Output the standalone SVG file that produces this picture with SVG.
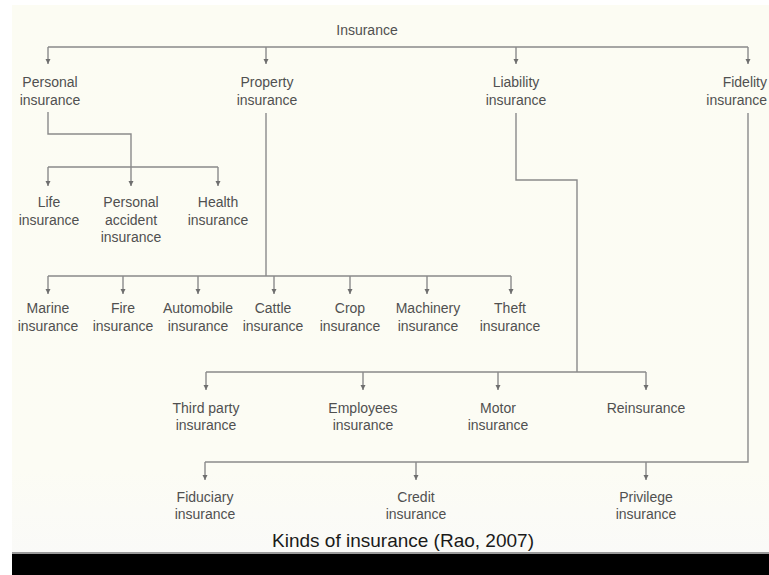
<svg xmlns="http://www.w3.org/2000/svg" width="769" height="575" viewBox="0 0 769 575">
<defs>
<marker id="ah" markerWidth="6" markerHeight="6" refX="5" refY="3" orient="auto" markerUnits="userSpaceOnUse">
<path d="M0,0.5 L5,3 L0,5.5 Z" fill="#6e6e6e"/>
</marker>
<linearGradient id="bg" x1="0" y1="0" x2="0" y2="1">
<stop offset="0" stop-color="#fcfcf3"/>
<stop offset="0.85" stop-color="#fcfcf4"/>
<stop offset="1" stop-color="#fafaf8"/>
</linearGradient>
</defs>
<style>
.n text{font-family:"Liberation Sans",Arial,sans-serif;font-size:14px;fill:#505050;text-anchor:middle}
.c path,.c line{stroke:#8a8a8a;stroke-width:1.4;fill:none}
.a{marker-end:url(#ah)}
.cap{font-family:"Liberation Sans",Arial,sans-serif;font-size:19px;fill:#1a1a1a;text-anchor:middle}
</style>
<rect x="0" y="0" width="769" height="575" fill="#ffffff"/>
<rect x="12" y="5" width="757" height="547" fill="url(#bg)"/>
<rect x="12" y="552" width="757" height="2" fill="#9a9a9a"/>
<rect x="12" y="554" width="757" height="21" fill="#000000"/>

<g class="c" id="connectors">
<line x1="48" y1="47" x2="748" y2="47"/>
<line class="a" x1="48" y1="47" x2="48" y2="64"/>
<line class="a" x1="266" y1="47" x2="266" y2="64"/>
<line class="a" x1="516" y1="47" x2="516" y2="64"/>
<line class="a" x1="748" y1="47" x2="748" y2="64"/>

<path class="a" d="M48,112 V134 H131 V186"/>
<line x1="48" y1="167" x2="218" y2="167"/>
<line class="a" x1="48" y1="167" x2="48" y2="186"/>
<line class="a" x1="218" y1="167" x2="218" y2="186"/>

<line x1="266" y1="113" x2="266" y2="276"/>
<line x1="48" y1="276" x2="511" y2="276"/>
<line class="a" x1="48" y1="276" x2="48" y2="294"/>
<line class="a" x1="123" y1="276" x2="123" y2="294"/>
<line class="a" x1="198" y1="276" x2="198" y2="294"/>
<line class="a" x1="274" y1="276" x2="274" y2="294"/>
<line class="a" x1="350" y1="276" x2="350" y2="294"/>
<line class="a" x1="427" y1="276" x2="427" y2="294"/>
<line class="a" x1="511" y1="276" x2="511" y2="294"/>

<path d="M516,113 V180 H577 V372"/>
<line x1="206" y1="372" x2="646" y2="372"/>
<line class="a" x1="206" y1="372" x2="206" y2="390"/>
<line class="a" x1="363" y1="372" x2="363" y2="390"/>
<line class="a" x1="498" y1="372" x2="498" y2="390"/>
<line class="a" x1="646" y1="372" x2="646" y2="390"/>

<path d="M748,113 V462 H205"/>
<line class="a" x1="205" y1="462" x2="205" y2="480"/>
<line class="a" x1="416" y1="462" x2="416" y2="480"/>
<line class="a" x1="646" y1="462" x2="646" y2="480"/>
</g>

<g class="n" id="insurance"><text x="367" y="35">Insurance</text></g>

<g class="n" id="personal"><text x="50" y="87">Personal</text><text x="50" y="105">insurance</text></g>
<g class="n" id="property"><text x="267" y="87">Property</text><text x="267" y="105">insurance</text></g>
<g class="n" id="liability"><text x="516" y="87">Liability</text><text x="516" y="105">insurance</text></g>
<g class="n" id="fidelity"><text x="767" y="87" style="text-anchor:end">Fidelity</text><text x="767" y="105" style="text-anchor:end">insurance</text></g>

<g class="n" id="life"><text x="49" y="207">Life</text><text x="49" y="225">insurance</text></g>
<g class="n" id="personal-accident"><text x="131" y="207">Personal</text><text x="131" y="225">accident</text><text x="131" y="242">insurance</text></g>
<g class="n" id="health"><text x="218" y="207">Health</text><text x="218" y="225">insurance</text></g>

<g class="n" id="marine"><text x="48" y="313">Marine</text><text x="48" y="331">insurance</text></g>
<g class="n" id="fire"><text x="123" y="313">Fire</text><text x="123" y="331">insurance</text></g>
<g class="n" id="automobile"><text x="198" y="313">Automobile</text><text x="198" y="331">insurance</text></g>
<g class="n" id="cattle"><text x="273" y="313">Cattle</text><text x="273" y="331">insurance</text></g>
<g class="n" id="crop"><text x="350" y="313">Crop</text><text x="350" y="331">insurance</text></g>
<g class="n" id="machinery"><text x="428" y="313">Machinery</text><text x="428" y="331">insurance</text></g>
<g class="n" id="theft"><text x="510" y="313">Theft</text><text x="510" y="331">insurance</text></g>

<g class="n" id="third-party"><text x="206" y="413">Third party</text><text x="206" y="430">insurance</text></g>
<g class="n" id="employees"><text x="363" y="413">Employees</text><text x="363" y="430">insurance</text></g>
<g class="n" id="motor"><text x="498" y="413">Motor</text><text x="498" y="430">insurance</text></g>
<g class="n" id="reinsurance"><text x="646" y="413">Reinsurance</text></g>

<g class="n" id="fiduciary"><text x="205" y="502">Fiduciary</text><text x="205" y="519">insurance</text></g>
<g class="n" id="credit"><text x="416" y="502">Credit</text><text x="416" y="519">insurance</text></g>
<g class="n" id="privilege"><text x="646" y="502">Privilege</text><text x="646" y="519">insurance</text></g>

<text class="cap" x="403" y="547">Kinds of insurance (Rao, 2007)</text>
</svg>
